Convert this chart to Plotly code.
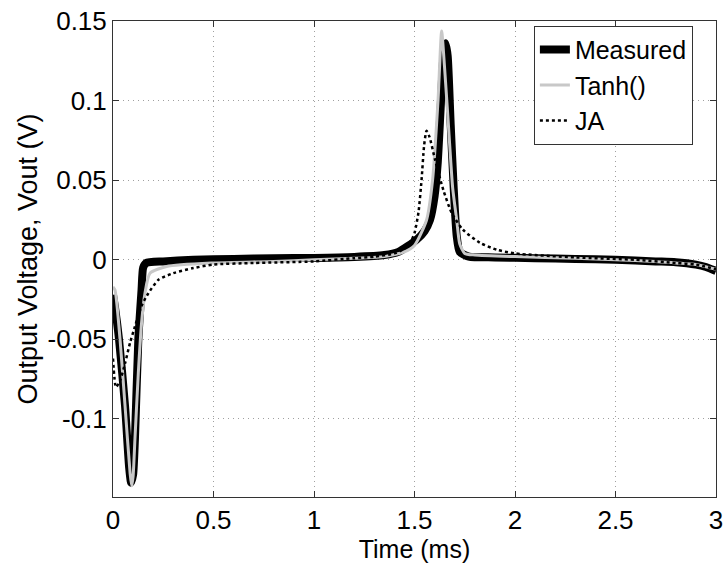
import plotly.graph_objects as go

# ---- data ----
meas_t = [0.0, 0.01, 0.03, 0.06, 0.08, 0.09, 0.10, 0.109, 0.126, 0.142, 0.15, 0.165, 0.25, 0.4,
          0.6, 0.8, 1.0, 1.2, 1.35, 1.42, 1.51, 1.55, 1.577, 1.60, 1.615, 1.63, 1.645, 1.655,
          1.665, 1.68, 1.695, 1.71, 1.725, 1.77, 1.9, 2.1, 2.3, 2.5, 2.7, 2.8, 2.9, 2.95, 3.0]
meas_v = [-0.022, -0.03, -0.05, -0.092, -0.13, -0.14, -0.135, -0.113, -0.05, -0.019, -0.005, -0.002, -0.001, 0.0,
          0.0005, 0.001, 0.0012, 0.0018, 0.003, 0.005, 0.0126, 0.018, 0.025, 0.04, 0.06, 0.095, 0.13, 0.136,
          0.128, 0.085, 0.045, 0.015, 0.005, 0.002, 0.0015, 0.001, 0.0005, 0.0, -0.001, -0.0015, -0.003, -0.0045, -0.007]

tanh_t = [0.0, 0.01, 0.035, 0.06, 0.085, 0.093, 0.10, 0.109, 0.126, 0.142, 0.159, 0.184, 0.267, 0.5,
          0.8, 1.0, 1.2, 1.35, 1.45, 1.5, 1.56, 1.59, 1.617, 1.635, 1.65, 1.667, 1.69, 1.71, 1.725,
          1.75, 1.8, 2.0, 2.3, 2.5, 2.7, 2.8, 2.9, 3.0]
tanh_v = [-0.017, -0.019, -0.05, -0.092, -0.134, -0.142, -0.136, -0.113, -0.071, -0.04, -0.021, -0.0084, -0.0042, -0.002,
          -0.001, 0.0, 0.001, 0.002, 0.005, 0.009, 0.025, 0.05, 0.1, 0.1437, 0.12, 0.088, 0.045, 0.025, 0.01,
          0.004, 0.003, 0.002, 0.001, 0.0, -0.001, -0.002, -0.003, -0.006]

ja_t = [0.0, 0.015, 0.035, 0.06, 0.085, 0.109, 0.142, 0.176, 0.226, 0.3, 0.4, 0.5, 0.7, 1.0, 1.2, 1.3,
        1.4, 1.45, 1.478, 1.5, 1.52, 1.535, 1.548, 1.56, 1.575, 1.602, 1.643, 1.685, 1.74, 1.826, 1.91,
        2.0, 2.3, 2.6, 2.8, 2.9, 3.0]
ja_v = [-0.062, -0.08, -0.076, -0.065, -0.052, -0.042, -0.029, -0.021, -0.0126, -0.0084, -0.0052, -0.003, -0.002, -0.001, 0.001, 0.002,
        0.004, 0.007, 0.0105, 0.0168, 0.03, 0.05, 0.072, 0.081, 0.077, 0.063, 0.044, 0.0294, 0.019, 0.0107, 0.0063,
        0.004, 0.0015, 0.0, -0.002, -0.003, -0.006]

x_ticks = [0, 0.5, 1, 1.5, 2, 2.5, 3]
x_ticktext = ["0", "0.5", "1", "1.5", "2", "2.5", "3"]
y_ticks = [-0.1, -0.05, 0, 0.05, 0.1, 0.15]
y_ticktext = ["-0.1", "-0.05", "0", "0.05", "0.1", "0.15"]

FONT = "Liberation Sans, Arial, Helvetica, sans-serif"

fig = go.Figure()
fig.add_trace(go.Scatter(x=meas_t, y=meas_v, mode="lines", name="Measured",
                         line=dict(color="black", width=8, shape="spline", smoothing=0.6)))
fig.add_trace(go.Scatter(x=tanh_t, y=tanh_v, mode="lines", name="Tanh()",
                         line=dict(color="#c8c8c8", width=3, shape="spline", smoothing=0.6)))
fig.add_trace(go.Scatter(x=ja_t, y=ja_v, mode="lines", name="JA",
                         line=dict(color="black", width=2.5, dash="dot", shape="spline", smoothing=0.6)))

axis_common = dict(showline=True, linecolor="#333333", linewidth=1, mirror="ticks",
                   ticks="inside", ticklen=6, tickcolor="#333333",
                   showgrid=True, gridcolor="#a0a0a0", griddash="1px,4px", gridwidth=1,
                   zeroline=False, tickfont=dict(family=FONT, size=26, color="black"))

fig.update_xaxes(range=[0, 3], tickvals=x_ticks, ticktext=x_ticktext,
                 title=dict(text="Time (ms)", font=dict(family=FONT, size=25, color="black"), standoff=0),
                 **axis_common)
fig.update_yaxes(range=[-0.149, 0.15], tickvals=y_ticks, ticktext=y_ticktext,
                 title=dict(text="Output Voltage, Vout (V)", font=dict(family=FONT, size=27, color="black"), standoff=2),
                 **axis_common)

fig.update_layout(
    width=726, height=563,
    margin=dict(l=113, r=10, t=21, b=66, autoexpand=False),
    paper_bgcolor="white", plot_bgcolor="white",
    font=dict(family=FONT, size=26, color="black"),
    legend=dict(x=0.698, y=0.99, xanchor="left", yanchor="top",
                bgcolor="white", bordercolor="#333333", borderwidth=1,
                font=dict(family=FONT, size=25, color="black"),
                tracegroupgap=0, itemwidth=30),
    showlegend=True,
)

fig.write_html("out.html", config={"displayModeBar": False},
               post_script="document.body.style.margin='0';document.body.style.padding='0';")
